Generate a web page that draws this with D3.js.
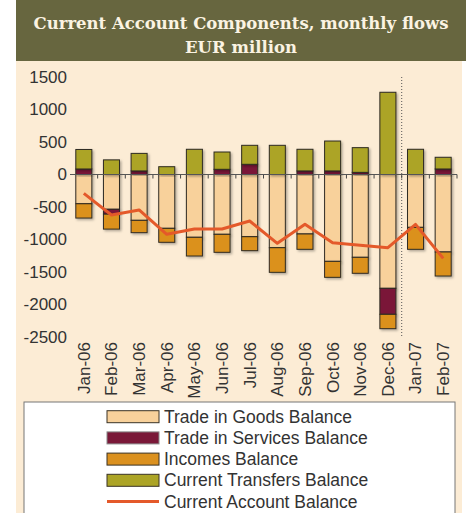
<!doctype html>
<html>
<head>
<meta charset="utf-8">
<title>Current Account Components</title>
<script src="https://cdn.jsdelivr.net/npm/d3@7"></script>
<style>
  body { margin: 0; background: #fff; }
  text { font-family: "Liberation Sans", Arial, sans-serif; fill: #333; }
</style>
</head>
<body>
<svg width="466" height="513"></svg>
<script>
// values in EUR million
var months = ["Jan-06", "Feb-06", "Mar-06", "Apr-06", "May-06", "Jun-06", "Jul-06",
              "Aug-06", "Sep-06", "Oct-06", "Nov-06", "Dec-06", "Jan-07", "Feb-07"];
var goods     = [-450, -535, -705, -828, -966, -920, -957, -1126, -915, -1336, -1274, -1751, -813, -1192];
var services  = [85, -75, 55, 0, 0, 80, 157, 0, 55, 55, 33, -400, 0, 85];
var incomes   = [-220, -230, -190, -215, -288, -277, -215, -379, -236, -246, -246, -221, -338, -370];
var transfers = [300, 225, 270, 120, 388, 266, 292, 449, 333, 460, 380, 1265, 388, 180];
var balance   = [-290, -623, -546, -920, -838, -838, -715, -1059, -767, -1049, -1090, -1126, -767, -1290];
var yTicks = [1500, 1000, 500, 0, -500, -1000, -1500, -2000, -2500];

var keys = ["goods", "services", "incomes", "transfers"];
var names = {
  goods: "Trade in Goods Balance",
  services: "Trade in Services Balance",
  incomes: "Incomes Balance",
  transfers: "Current Transfers Balance"
};
var colors = { goods: "#f8d19b", services: "#7a1838", incomes: "#db911f", transfers: "#aca426" };

var rows = months.map(function(m, i) {
  return { month: m, goods: goods[i], services: services[i], incomes: incomes[i], transfers: transfers[i], balance: balance[i] };
});

var svg = d3.select("svg");

// soft shadow like the original
var defs = svg.append("defs");
var f = defs.append("filter").attr("id", "shadow").attr("x", "-20%").attr("y", "-20%").attr("width", "150%").attr("height", "150%");
f.append("feDropShadow").attr("dx", 1.5).attr("dy", 1.5).attr("stdDeviation", 0.8)
  .attr("flood-color", "#000").attr("flood-opacity", 0.3);

// backgrounds
svg.append("rect").attr("x", 16).attr("y", 60).attr("width", 446).attr("height", 453).attr("fill", "#fcecd5");
svg.append("rect").attr("x", 16).attr("y", 0).attr("width", 450).attr("height", 61).attr("fill", "#67663f");

var title = svg.append("text")
  .attr("text-anchor", "middle")
  .style("font-family", "'DejaVu Serif', 'Liberation Serif', serif")
  .style("font-weight", "bold")
  .style("font-size", "16.5px")
  .style("fill", "#fbf3e2");
title.append("tspan").attr("x", 241).attr("y", 29).text("Current Account Components, monthly flows");
title.append("tspan").attr("x", 241).attr("y", 53).text("EUR million");

var margin = { left: 70, top: 77, right: 457, bottom: 337 };

var x = d3.scaleBand().domain(months).range([margin.left, margin.right]).paddingInner(0.42).paddingOuter(0.21);
var y = d3.scaleLinear().domain([-2500, 1500]).range([margin.bottom, margin.top]);

var g = svg.append("g");

// gridlines
g.append("g").selectAll("line").data(yTicks).join("line")
  .attr("x1", margin.left - 3).attr("x2", margin.right)
  .attr("y1", function(d) { return y(d); }).attr("y2", function(d) { return y(d); })
  .attr("stroke", "#555").attr("stroke-width", 1)
  .attr("filter", "url(#shadow)");

// frame
g.append("line").attr("x1", margin.left).attr("x2", margin.left).attr("y1", y(1500)).attr("y2", y(-2500))
  .attr("stroke", "#555").attr("filter", "url(#shadow)");
g.append("line").attr("x1", margin.right).attr("x2", margin.right).attr("y1", y(1500)).attr("y2", y(-2500))
  .attr("stroke", "#555").attr("filter", "url(#shadow)");

// year break
var step = x.step();
var breakX = margin.left + step * 12;
g.append("line").attr("x1", breakX).attr("x2", breakX).attr("y1", y(1500)).attr("y2", y(-2500))
  .attr("stroke", "#555").attr("stroke-dasharray", "1,2");

// y labels
g.append("g").selectAll("text").data(yTicks).join("text")
  .attr("x", margin.left - 3).attr("y", function(d) { return y(d); }).attr("dy", "0.35em")
  .attr("text-anchor", "end").style("font-size", "17px")
  .text(function(d) { return d; });

// stacked bars
var series = d3.stack().keys(keys).offset(d3.stackOffsetDiverging)(rows);
g.append("g").selectAll("g").data(series).join("g")
  .attr("fill", function(d) { return colors[d.key]; })
  .selectAll("rect").data(function(d) { return d.filter(function(p) { return p[1] - p[0] !== 0; }); }).join("rect")
  .attr("x", function(d) { return x(d.data.month); })
  .attr("width", x.bandwidth())
  .attr("y", function(d) { return y(d[1]); })
  .attr("height", function(d) { return y(d[0]) - y(d[1]); })
  .attr("stroke", "#2e2a22").attr("stroke-width", 1)
  .attr("filter", "url(#shadow)");

// small ticks on the zero line
g.append("g").selectAll("line").data(d3.range(1, months.length + 1)).join("line")
  .attr("x1", function(k) { return margin.left + step * k; })
  .attr("x2", function(k) { return margin.left + step * k; })
  .attr("y1", y(0)).attr("y2", y(0) + 4)
  .attr("stroke", "#444");
g.append("line").attr("x1", margin.left).attr("x2", margin.right).attr("y1", y(0)).attr("y2", y(0))
  .attr("stroke", "#555");

// current account line
var line = d3.line()
  .x(function(d) { return x(d.month) + x.bandwidth() / 2; })
  .y(function(d) { return y(d.balance); });
g.append("path").datum(rows).attr("d", line)
  .attr("fill", "none").attr("stroke", "#e4592a").attr("stroke-width", 3).attr("stroke-linejoin", "round");

// x labels
g.append("g").selectAll("text").data(months).join("text")
  .attr("transform", function(d) { return "translate(" + (x(d) + x.bandwidth() / 2) + "," + (y(-2500) + 5) + ") rotate(-90)"; })
  .attr("dy", "0.35em").attr("text-anchor", "end").style("font-size", "17px")
  .text(function(d) { return d; });

// legend
var lg = svg.append("g");
lg.append("rect").attr("x", 24).attr("y", 402).attr("width", 431).attr("height", 120)
  .attr("fill", "#fff").attr("stroke", "#777");
var legendItems = keys.map(function(k) { return { key: k, name: names[k] }; })
  .concat([{ key: "line", name: "Current Account Balance" }]);
var li = lg.selectAll("g").data(legendItems).join("g")
  .attr("transform", function(d, i) { return "translate(107," + (416.7 + i * 21.2) + ")"; });
li.filter(function(d) { return d.key !== "line"; }).append("rect")
  .attr("x", 0).attr("y", -6).attr("width", 52).attr("height", 12)
  .attr("fill", function(d) { return colors[d.key]; })
  .attr("stroke", function(d) { return d.key === "services" ? "#888" : "#3a3226"; });
li.filter(function(d) { return d.key === "line"; }).append("line")
  .attr("x1", 0).attr("x2", 52).attr("stroke", "#e4592a").attr("stroke-width", 3);
li.append("text").attr("x", 57).attr("dy", "0.35em").style("font-size", "17.5px")
  .text(function(d) { return d.name; });
</script>
</body>
</html>
